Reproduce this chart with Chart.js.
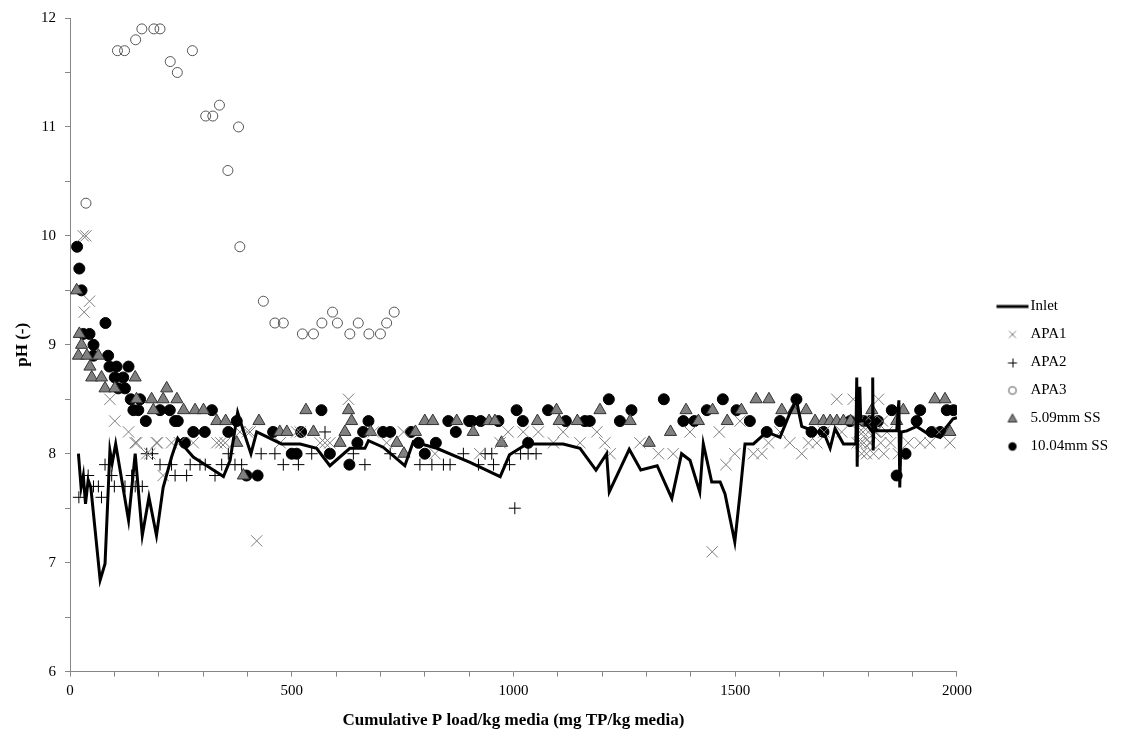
<!DOCTYPE html>
<html>
<head>
<meta charset="utf-8">
<script src="https://cdn.jsdelivr.net/npm/chart.js@4/dist/chart.umd.min.js"></script>
<style>
  html, body { margin: 0; padding: 0; background: #fff; }
  canvas { display: block; }
</style>
</head>
<body>
<canvas id="grafico" width="1126" height="735"></canvas>
<script>
// ==========================
// Datos
// ==========================

const inletX = [19, 25, 30, 35, 41, 47, 68, 79, 90, 95, 103, 132, 147, 163, 178, 195, 210, 229, 243, 252, 278, 297, 346, 361, 378, 391, 408, 421, 477, 519, 556, 586, 631, 665, 673, 706, 755, 774, 827, 902, 970, 991, 1030, 1112, 1150, 1186, 1210, 1216, 1261, 1287, 1324, 1357, 1379, 1398, 1420, 1428, 1447, 1466, 1477, 1499, 1511, 1522, 1541, 1571, 1601, 1623, 1638, 1650, 1669, 1687, 1702, 1714, 1725, 1744, 1766, 1772, 1774, 1775, 1777, 1781, 1783, 1789, 1800, 1809, 1810, 1811, 1813, 1819, 1840, 1864, 1869, 1871, 1874, 1887, 1909, 1932, 1962, 1977, 1991, 2000];
const inletY = [8.0, 7.69, 7.8, 7.54, 7.76, 7.69, 6.84, 6.99, 8.03, 7.91, 8.09, 7.39, 8.0, 7.25, 7.6, 7.25, 7.69, 7.97, 8.14, 8.09, 7.97, 7.92, 7.79, 7.94, 8.38, 8.21, 8.0, 8.2, 8.09, 8.09, 8.05, 7.89, 8.05, 8.05, 8.12, 8.06, 7.89, 8.11, 8.05, 7.92, 7.79, 7.99, 8.09, 8.09, 8.05, 7.85, 8.0, 7.65, 8.04, 7.85, 7.89, 7.59, 8.0, 7.94, 7.65, 8.09, 7.74, 7.74, 7.63, 7.19, 7.64, 8.09, 8.09, 8.2, 8.15, 8.37, 8.49, 8.25, 8.22, 8.2, 8.17, 8.05, 8.23, 8.09, 8.09, 8.09, 8.7, 7.88, 8.6, 8.6, 8.3, 8.31, 8.25, 8.2, 8.7, 8.03, 8.3, 8.21, 8.21, 8.21, 8.49, 7.69, 8.2, 8.21, 8.25, 8.19, 8.15, 8.25, 8.32, 8.33];

const apa1X = [30, 36, 44, 32, 90, 101, 132, 147, 150, 173, 180, 195, 197, 210, 229, 247, 278, 331, 340, 350, 383, 400, 406, 421, 474, 511, 519, 564, 575, 586, 628, 684, 714, 752, 823, 924, 970, 988, 1022, 1056, 1090, 1112, 1150, 1188, 1206, 1218, 1285, 1327, 1360, 1398, 1448, 1464, 1479, 1499, 1511, 1541, 1560, 1575, 1601, 1623, 1650, 1665, 1684, 1700, 1729, 1740, 1766, 1775, 1778, 1780, 1783, 1785, 1788, 1790, 1793, 1796, 1800, 1803, 1805, 1808, 1812, 1815, 1818, 1823, 1828, 1832, 1835, 1842, 1850, 1868, 1890, 1917, 1939, 1960, 1984];
const apa1Y = [10.0, 10.0, 9.4, 9.3, 8.5, 8.3, 8.2, 8.1, 8.1, 8.0, 8.0, 8.1, 8.1, 7.8, 8.1, 8.1, 8.1, 8.1, 8.1, 8.1, 8.2, 8.2, 8.2, 7.2, 8.1, 8.2, 8.2, 8.1, 8.1, 8.1, 8.5, 8.2, 8.1, 8.2, 8.0, 8.0, 8.1, 8.2, 8.2, 8.2, 8.1, 8.2, 8.1, 8.2, 8.1, 8.0, 8.1, 8.0, 8.0, 8.2, 7.1, 8.2, 7.9, 8.0, 8.3, 8.0, 8.0, 8.1, 8.2, 8.1, 8.0, 8.1, 8.1, 8.2, 8.5, 8.2, 8.5, 8.1, 8.3, 8.2, 8.1, 8.0, 8.2, 8.1, 8.3, 8.0, 8.2, 8.1, 8.1, 8.3, 8.0, 8.2, 8.2, 8.5, 8.1, 8.3, 8.0, 8.2, 8.1, 8.0, 8.1, 8.1, 8.1, 8.2, 8.1];

const apa2X = [20, 41, 53, 64, 71, 79, 94, 100, 124, 139, 147, 163, 173, 186, 203, 229, 237, 263, 271, 293, 305, 327, 342, 357, 372, 387, 431, 462, 481, 515, 545, 575, 639, 665, 722, 789, 816, 842, 857, 887, 921, 936, 951, 955, 991, 1003, 1016, 1033, 1051];
const apa2Y = [7.6, 7.8, 7.7, 7.7, 7.6, 7.9, 7.8, 7.7, 7.7, 7.8, 7.7, 7.7, 8.0, 8.0, 7.9, 7.9, 7.8, 7.8, 7.9, 7.9, 7.9, 7.8, 7.9, 8.0, 7.9, 7.9, 8.0, 8.0, 7.9, 7.9, 8.0, 8.2, 8.0, 7.9, 8.0, 7.9, 7.9, 7.9, 7.9, 8.0, 7.9, 8.0, 8.0, 7.9, 7.9, 7.5, 8.0, 8.0, 8.0];

const apa3X = [36, 107, 123, 148, 162, 189, 203, 226, 242, 276, 306, 322, 337, 356, 380, 383, 436, 462, 481, 524, 549, 568, 592, 603, 631, 650, 674, 700, 714, 731];
const apa3Y = [10.3, 11.7, 11.7, 11.8, 11.9, 11.9, 11.9, 11.6, 11.5, 11.7, 11.1, 11.1, 11.2, 10.6, 11.0, 9.9, 9.4, 9.2, 9.2, 9.1, 9.1, 9.2, 9.3, 9.2, 9.1, 9.2, 9.1, 9.1, 9.2, 9.3];

const ss509X = [15, 21, 26, 19, 38, 45, 49, 64, 71, 79, 101, 147, 150, 184, 188, 210, 218, 241, 256, 282, 301, 331, 351, 376, 391, 426, 473, 489, 532, 549, 609, 620, 628, 635, 678, 737, 753, 779, 800, 818, 872, 909, 945, 958, 973, 1054, 1097, 1103, 1144, 1195, 1263, 1306, 1354, 1389, 1417, 1449, 1482, 1514, 1547, 1576, 1605, 1631, 1660, 1680, 1699, 1714, 1729, 1744, 1760, 1777, 1808, 1864, 1879, 1950, 1973, 1984];
const ss509Y = [9.5, 9.1, 9.0, 8.9, 8.9, 8.8, 8.7, 8.9, 8.7, 8.6, 8.6, 8.7, 8.5, 8.5, 8.4, 8.5, 8.6, 8.5, 8.4, 8.4, 8.4, 8.3, 8.3, 8.1, 7.8, 8.3, 8.2, 8.2, 8.4, 8.2, 8.1, 8.2, 8.4, 8.3, 8.2, 8.1, 8.0, 8.2, 8.3, 8.3, 8.3, 8.2, 8.3, 8.3, 8.1, 8.3, 8.4, 8.3, 8.3, 8.4, 8.3, 8.1, 8.2, 8.4, 8.3, 8.4, 8.3, 8.4, 8.5, 8.5, 8.4, 8.4, 8.4, 8.3, 8.3, 8.3, 8.3, 8.3, 8.3, 8.3, 8.4, 8.3, 8.4, 8.5, 8.5, 8.2];

const ss1004X = [16, 21, 26, 30, 44, 53, 53, 80, 86, 89, 105, 132, 101, 120, 109, 124, 137, 158, 143, 154, 171, 203, 225, 237, 243, 259, 278, 304, 320, 357, 376, 398, 423, 458, 500, 511, 521, 567, 586, 630, 648, 661, 673, 706, 722, 769, 786, 800, 825, 853, 870, 900, 906, 926, 966, 1007, 1021, 1033, 1078, 1118, 1161, 1172, 1215, 1240, 1266, 1339, 1383, 1408, 1436, 1472, 1503, 1533, 1571, 1601, 1638, 1672, 1699, 1759, 1790, 1804, 1822, 1853, 1864, 1884, 1909, 1917, 1943, 1962, 1977, 1992];
const ss1004Y = [9.9, 9.7, 9.5, 9.1, 9.1, 9.0, 8.9, 9.2, 8.9, 8.8, 8.8, 8.8, 8.7, 8.7, 8.6, 8.6, 8.5, 8.5, 8.4, 8.4, 8.3, 8.4, 8.4, 8.3, 8.3, 8.1, 8.2, 8.2, 8.4, 8.2, 8.3, 7.8, 7.8, 8.2, 8.0, 8.0, 8.2, 8.4, 8.0, 7.9, 8.1, 8.2, 8.3, 8.2, 8.2, 8.2, 8.1, 8.0, 8.1, 8.3, 8.2, 8.3, 8.3, 8.3, 8.3, 8.4, 8.3, 8.1, 8.4, 8.3, 8.3, 8.3, 8.5, 8.3, 8.4, 8.5, 8.3, 8.3, 8.4, 8.5, 8.4, 8.3, 8.2, 8.3, 8.5, 8.2, 8.2, 8.3, 8.3, 8.3, 8.3, 8.4, 7.8, 8.0, 8.3, 8.4, 8.2, 8.2, 8.4, 8.4];

const xTicksLabel = [0, 500, 1000, 1500, 2000];
const yTicksLabel = [6, 7, 8, 9, 10, 11, 12];

// ==========================
// Helpers
// ==========================

const fuente = "'Liberation Serif', 'Times New Roman', serif";

function puntos(xs, ys) {
    return xs.map((x, i) => ({ x: x, y: ys[i] }));
}

// muestras de la leyenda (marcador desplazado respecto al texto)
function muestra(dibujar) {
    const cv = document.createElement('canvas');
    cv.width = 40;
    cv.height = 14;
    const c = cv.getContext('2d');
    dibujar(c, 17, 7);
    return cv;
}

const muestras = [
    muestra((c, x, y) => {           // Inlet
        c.fillStyle = '#000';
        c.fillRect(1, y - 1.5, 32, 3);
    }),
    muestra((c, x, y) => {           // APA1
        c.strokeStyle = '#7f7f7f';
        c.lineWidth = 1;
        c.beginPath();
        c.moveTo(x - 3.5, y - 3.5); c.lineTo(x + 3.5, y + 3.5);
        c.moveTo(x + 3.5, y - 3.5); c.lineTo(x - 3.5, y + 3.5);
        c.stroke();
    }),
    muestra((c, x, y) => {           // APA2
        c.strokeStyle = '#000';
        c.lineWidth = 1;
        c.beginPath();
        c.moveTo(x - 4.5, y + 0.5); c.lineTo(x + 4.5, y + 0.5);
        c.moveTo(x + 0.5, y - 4); c.lineTo(x + 0.5, y + 5);
        c.stroke();
    }),
    muestra((c, x, y) => {           // APA3
        c.strokeStyle = '#555';
        c.lineWidth = 1;
        c.beginPath();
        c.arc(x, y, 3.8, 0, Math.PI * 2);
        c.stroke();
    }),
    muestra((c, x, y) => {           // 5.09mm SS
        c.fillStyle = '#808080';
        c.strokeStyle = '#333';
        c.lineWidth = 1;
        c.beginPath();
        c.moveTo(x, y - 4.5); c.lineTo(x + 4.5, y + 3.5); c.lineTo(x - 4.5, y + 3.5);
        c.closePath();
        c.fill();
        c.stroke();
    }),
    muestra((c, x, y) => {           // 10.04mm SS
        c.fillStyle = '#000';
        c.beginPath();
        c.arc(x, y, 4.2, 0, Math.PI * 2);
        c.fill();
    })
];

// ==========================
// Grafico
// ==========================

new Chart(document.getElementById('grafico'), {
    type: 'scatter',
    data: {
        datasets: [
            {
                label: 'Inlet',
                type: 'line',
                data: puntos(inletX, inletY),
                showLine: true,
                borderColor: '#000',
                backgroundColor: '#000',
                borderWidth: 3,
                pointRadius: 0,
                tension: 0
            },
            {
                label: 'APA1',
                data: puntos(apa1X, apa1Y),
                pointStyle: 'crossRot',
                pointRadius: 8,
                borderColor: '#7f7f7f',
                backgroundColor: '#7f7f7f',
                borderWidth: 1
            },
            {
                label: 'APA2',
                data: puntos(apa2X, apa2Y),
                pointStyle: 'cross',
                pointRadius: 6,
                borderColor: '#000',
                backgroundColor: '#000',
                borderWidth: 1
            },
            {
                label: 'APA3',
                data: puntos(apa3X, apa3Y),
                pointStyle: 'circle',
                pointRadius: 5,
                borderColor: '#555',
                backgroundColor: 'rgba(255,255,255,0)',
                borderWidth: 1
            },
            {
                label: '5.09mm SS',
                data: puntos(ss509X, ss509Y),
                pointStyle: 'triangle',
                pointRadius: 7,
                borderColor: '#333',
                backgroundColor: '#808080',
                borderWidth: 1
            },
            {
                label: '10.04mm SS',
                data: puntos(ss1004X, ss1004Y),
                pointStyle: 'circle',
                pointRadius: 5.5,
                borderColor: '#000',
                backgroundColor: '#000',
                borderWidth: 1
            }
        ]
    },
    options: {
        responsive: false,
        animation: false,
        layout: { padding: { left: 12, top: 18, right: 8, bottom: 0 } },
        plugins: {
            tooltip: { enabled: false },
            legend: {
                position: 'right',
                labels: {
                    usePointStyle: true,
                    boxHeight: 6,
                    boxWidth: 15,
                    padding: 13,
                    color: '#000',
                    font: { family: fuente, size: 15 },
                    generateLabels: chart => {
                        const items = Chart.defaults.plugins.legend.labels.generateLabels(chart);
                        items.forEach((it, i) => { it.pointStyle = muestras[i]; it.rotation = 0; });
                        return items;
                    }
                }
            }
        },
        scales: {
            x: {
                type: 'linear',
                min: 0,
                max: 2000,
                ticks: {
                    stepSize: 100,
                    autoSkip: false,
                    maxRotation: 0,
                    padding: 5,
                    color: '#000',
                    font: { family: fuente, size: 15 },
                    callback: v => xTicksLabel.includes(v) ? String(v) : ''
                },
                grid: { drawOnChartArea: false, color: '#868686', tickLength: 5 },
                border: { color: '#868686' },
                title: {
                    display: true,
                    text: 'Cumulative P load/kg media (mg TP/kg media)',
                    color: '#000',
                    font: { family: fuente, size: 17, weight: 'bold' },
                    padding: { top: 6, bottom: 4 }
                }
            },
            y: {
                type: 'linear',
                min: 6,
                max: 12,
                ticks: {
                    stepSize: 0.5,
                    autoSkip: false,
                    padding: 9,
                    color: '#000',
                    font: { family: fuente, size: 15 },
                    callback: v => yTicksLabel.includes(v) ? String(v) : ''
                },
                grid: { drawOnChartArea: false, color: '#868686', tickLength: 5 },
                border: { color: '#868686' },
                title: {
                    display: true,
                    text: 'pH (-)',
                    color: '#000',
                    font: { family: fuente, size: 17, weight: 'bold' },
                    padding: { top: 0, bottom: 3 }
                },
                afterFit: s => { s.width = 58; }
            },
            // hueco entre el area del grafico y la leyenda
            hueco: {
                type: 'linear',
                position: 'right',
                display: true,
                grid: { display: false },
                border: { display: false },
                ticks: { display: false },
                afterFit: s => { s.width = 38; }
            }
        }
    }
});
</script>
</body>
</html>
